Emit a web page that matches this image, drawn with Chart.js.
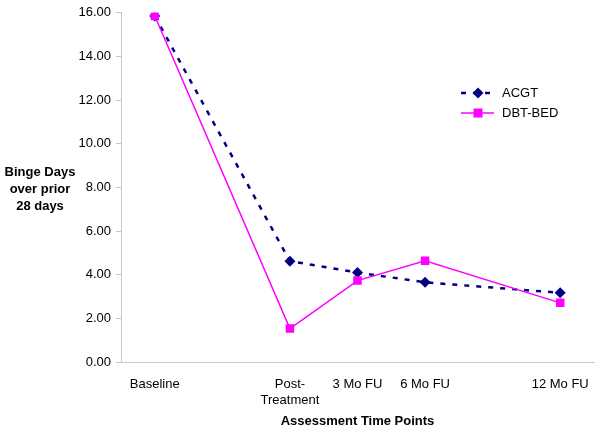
<!DOCTYPE html>
<html>
<head>
<meta charset="utf-8">
<script src="https://cdn.jsdelivr.net/npm/chart.js@4/dist/chart.umd.min.js"></script>
<style>
  html, body { margin: 0; padding: 0; background: #fff; }
  #wrap { width: 600px; height: 431px; }
</style>
</head>
<body>
<div id="wrap"><canvas id="chart" width="600" height="431"></canvas></div>
<script>
// time points; blank slots keep the Excel spacing between visits
const timePoints = ['Baseline', '', ['Post-', 'Treatment'], '3 Mo FU', '6 Mo FU', '', '12 Mo FU'];
const acgt = [15.85, null, 4.62, 4.10, 3.65, null, 3.17];
const dbtBed = [15.85, null, 1.53, 3.73, 4.64, null, 2.71];
const yTitle = ['Binge Days', 'over prior', '28 days'];
const xTitle = 'Assessment Time Points';

const FONT = 'Liberation Sans, Arial, sans-serif';
const NAVY = '#000080';
const MAGENTA = '#FF00FF';
const DASH = [5, 7];

// horizontal y title + floating legend, like the Excel original
const overlay = {
  id: 'overlay',
  afterDraw(chart) {
    const c = chart.ctx;
    c.save();
    c.fillStyle = '#000';
    c.font = 'bold 13px ' + FONT;
    c.textAlign = 'center';
    c.textBaseline = 'middle';
    yTitle.forEach((t, i) => c.fillText(t, 40, 172 + i * 17));

    // legend
    const lx = 461, rx = 494, mx = 478;
    c.font = '13px ' + FONT;
    c.textAlign = 'left';

    let y = 93;
    c.strokeStyle = NAVY;
    c.lineWidth = 2.5;
    c.setLineDash(DASH);
    c.beginPath(); c.moveTo(lx, y); c.lineTo(rx, y); c.stroke();
    c.setLineDash([]);
    c.fillStyle = NAVY;
    c.beginPath();
    c.moveTo(mx, y - 5.5); c.lineTo(mx + 5.5, y); c.lineTo(mx, y + 5.5); c.lineTo(mx - 5.5, y);
    c.closePath(); c.fill();
    c.fillStyle = '#000';
    c.fillText('ACGT', 502, y);

    y = 113;
    c.strokeStyle = MAGENTA;
    c.lineWidth = 1.5;
    c.beginPath(); c.moveTo(lx, y); c.lineTo(rx, y); c.stroke();
    c.fillStyle = MAGENTA;
    c.fillRect(mx - 4.5, y - 4.5, 9, 9);
    c.fillStyle = '#000';
    c.fillText('DBT-BED', 502, y);
    c.restore();
  }
};

new Chart(document.getElementById('chart'), {
  type: 'line',
  data: {
    labels: timePoints,
    datasets: [
      {
        label: 'ACGT',
        data: acgt,
        order: 2,
        borderColor: NAVY,
        backgroundColor: NAVY,
        borderWidth: 2.5,
        borderDash: DASH,
        pointStyle: 'rectRot',
        pointRadius: 5.5,
        pointHoverRadius: 5.5,
        pointBorderWidth: 0,
        spanGaps: true,
        tension: 0,
      },
      {
        label: 'DBT-BED',
        data: dbtBed,
        order: 1,
        borderColor: MAGENTA,
        backgroundColor: MAGENTA,
        borderWidth: 1.5,
        pointStyle: 'rect',
        pointRadius: 6,
        pointHoverRadius: 6,
        pointBorderWidth: 0,
        spanGaps: true,
        tension: 0,
      },
    ],
  },
  options: {
    responsive: false,
    animation: false,
    events: [],
    layout: { padding: { top: 10, right: 5, left: 0, bottom: 0 } },
    scales: {
      x: {
        offset: true,
        grid: { display: false, offset: true },
        border: { display: true, color: '#c8c8c8', width: 1 },
        ticks: {
          color: '#000',
          font: { family: FONT, size: 13 },
          padding: 7,
          maxRotation: 0,
          autoSkip: false,
        },
        title: {
          display: true,
          text: xTitle,
          color: '#000',
          font: { family: FONT, size: 13, weight: 'bold' },
          padding: { top: 4, bottom: 2 },
        },
        afterFit(scale) { scale.height = 69; },
      },
      y: {
        min: 0,
        max: 16,
        grid: { drawOnChartArea: false, drawTicks: true, tickLength: 5, color: '#c8c8c8' },
        border: { display: true, color: '#c8c8c8', width: 1 },
        ticks: {
          stepSize: 2,
          color: '#000',
          font: { family: FONT, size: 13 },
          padding: 5,
          callback: v => v.toFixed(2),
        },
        afterFit(scale) { scale.width = 121; },
      },
    },
    plugins: {
      legend: { display: false },
      tooltip: { enabled: false },
    },
  },
  plugins: [overlay],
});
</script>
</body>
</html>
